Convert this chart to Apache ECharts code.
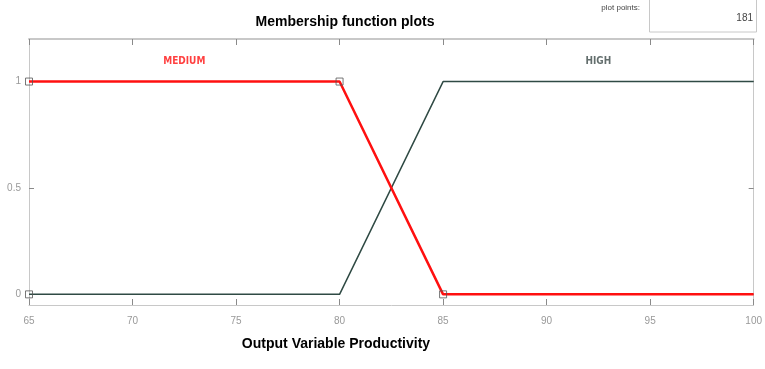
<!DOCTYPE html>
<html>
<head>
<meta charset="utf-8">
<script src="https://cdn.jsdelivr.net/npm/echarts@6/dist/echarts.min.js"></script>
<style>html,body{margin:0;padding:0;background:#fff;}#c{width:765px;height:369px;}</style>
</head>
<body>
<div id="c"></div>
<script>
const xTicks = [65, 70, 75, 80, 85, 90, 95, 100];
const yTicks = [0, 0.5, 1];
const mediumX = [65, 80, 85, 100];
const mediumY = [1, 1, 0, 0];
const highX = [65, 80, 85, 100];
const highY = [0, 0, 1, 1];
const markerX = [65, 65, 80, 85];
const markerY = [1, 0, 1, 0];
const mfNames = ['MEDIUM', 'HIGH'];
const mfLabelX = [72.5, 92.5];
const mfLabelY = [1.095, 1.095];
const plotPoints = 181;

const chart = echarts.init(document.getElementById('c'), null, {renderer: 'canvas'});
const font = 'Liberation Sans, Arial, sans-serif';
const frame = '#c8c8c8';
const tickCol = '#8a8a8a';

const zip = (a, b) => a.map((v, i) => [v, b[i]]);

chart.setOption({
  animation: false,
  backgroundColor: '#fff',
  grid: {left: 29, right: 8, top: 39, bottom: 64, containLabel: false},
  xAxis: [{
    type: 'value', min: 65, max: 100, interval: 5, position: 'bottom',
    axisLine: {show: true, onZero: false, lineStyle: {color: frame, width: 1}},
    axisTick: {show: true, inside: true, length: 6, lineStyle: {color: tickCol}},
    axisLabel: {show: true, color: '#999', fontSize: 10, fontFamily: font, margin: 11},
    splitLine: {show: false}
  }, {
    type: 'value', min: 65, max: 100, interval: 5, position: 'top',
    axisLine: {show: true, onZero: false, lineStyle: {color: frame, width: 2}},
    axisTick: {show: true, inside: true, length: 6, lineStyle: {color: tickCol}},
    axisLabel: {show: false},
    splitLine: {show: false}
  }],
  yAxis: [{
    type: 'value', min: -0.05, max: 1.2, position: 'left',
    axisLine: {show: true, onZero: false, lineStyle: {color: frame, width: 1}},
    axisTick: {show: true, inside: true, length: 5, customValues: yTicks, lineStyle: {color: tickCol}},
    axisLabel: {show: true, customValues: yTicks, color: '#999', fontSize: 10, fontFamily: font, margin: 8},
    splitLine: {show: false}
  }, {
    type: 'value', min: -0.05, max: 1.2, position: 'right',
    axisLine: {show: true, onZero: false, lineStyle: {color: frame, width: 1}},
    axisTick: {show: true, inside: true, length: 5, customValues: yTicks, lineStyle: {color: tickCol}},
    axisLabel: {show: false},
    splitLine: {show: false}
  }],
  series: [{
    type: 'line', name: mfNames[1], data: zip(highX, highY),
    showSymbol: false, lineStyle: {color: '#2f4a44', width: 1.5}, z: 2
  }, {
    type: 'line', name: mfNames[0], data: zip(mediumX, mediumY),
    showSymbol: false, lineStyle: {color: '#ff1010', width: 2.5}, z: 3
  }, {
    type: 'scatter', data: zip(markerX, markerY), symbol: 'rect', symbolSize: 7,
    itemStyle: {color: 'rgba(255,255,255,0)', borderColor: '#555', borderWidth: 1}, z: 4
  }, {
    type: 'scatter', symbolSize: 0,
    data: mfNames.map((n, i) => ({value: [mfLabelX[i], mfLabelY[i]], name: n,
      label: {color: i === 0 ? '#ff1010' : '#3c4a48'}})),
    label: {show: true, position: 'inside', formatter: p => p.name, fontSize: 10, fontWeight: 'bold',
      fontFamily: 'DejaVu Sans Condensed, Liberation Sans Narrow, sans-serif'},
    z: 5
  }],
  graphic: [
    {type: 'text', style: {x: 345, y: 22, text: 'Membership function plots', font: 'bold 14px Liberation Sans, Arial, sans-serif', fill: '#000', textAlign: 'center', textVerticalAlign: 'middle'}},
    {type: 'text', style: {x: 336, y: 344, text: 'Output Variable Productivity', font: 'bold 14px Liberation Sans, Arial, sans-serif', fill: '#000', textAlign: 'center', textVerticalAlign: 'middle'}},
    {type: 'text', style: {x: 640, y: 8, text: 'plot points:', font: '8px Liberation Sans Narrow, Liberation Sans, sans-serif', fill: '#444', textAlign: 'right', textVerticalAlign: 'middle'}},
    {type: 'rect', shape: {x: 649.5, y: -1, width: 107, height: 33}, style: {fill: '#fff', stroke: '#c8c8c8', lineWidth: 1}},
    {type: 'text', style: {x: 753, y: 18, text: String(plotPoints), font: '10px Liberation Sans, sans-serif', fill: '#444', textAlign: 'right', textVerticalAlign: 'middle'}}
  ]
});
</script>
</body>
</html>
